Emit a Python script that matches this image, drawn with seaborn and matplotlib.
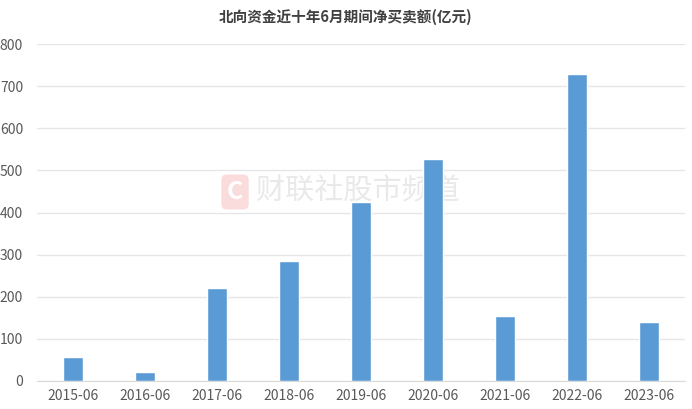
import pandas as pd
import matplotlib.pyplot as plt
import seaborn as sns

# values (亿元)
months = ['2015-06', '2016-06', '2017-06', '2018-06', '2019-06',
          '2020-06', '2021-06', '2022-06', '2023-06']
net_buy = [58, 22, 221, 284, 426, 527, 154, 729, 140]
y_ticks = [0, 100, 200, 300, 400, 500, 600, 700, 800]

title = '北向资金近十年6月期间净买卖额(亿元)'
watermark = '财联社股市频道'

sns.set_style('white')
plt.rcParams['font.family'] = ['Noto Sans CJK SC', 'DejaVu Sans']

df = pd.DataFrame({'month': months, 'value': net_buy})

fig = plt.figure(figsize=(6.92, 4.09), dpi=100)
ax = fig.add_axes([37 / 692, 1 - 381 / 409, 648 / 692, 337 / 409])

sns.barplot(data=df, x='month', y='value', color='#5B9BD5', saturation=1,
            width=0.28, ax=ax, zorder=3)

ax.set_ylim(0, 800)
ax.set_yticks(y_ticks)
ax.set_xlim(-0.5, len(months) - 0.5)
ax.grid(axis='y', color='#E6E6E6', linewidth=1, zorder=0)
ax.set_xlabel('')
ax.set_ylabel('')
for side in ['top', 'right', 'left']:
    ax.spines[side].set_visible(False)
ax.spines['bottom'].set_color('#D9D9D9')
ax.tick_params(axis='both', length=0, labelsize=10, colors='#595959')
ax.tick_params(axis='x', pad=6)
ax.tick_params(axis='y', pad=10)

fig.text(0.5, 1 - 17 / 409, title, ha='center', va='center',
         fontsize=10.5, fontweight='bold', color='#404040')

# watermark, drawn under the bars
ax.text(235 / 692, 1 - 192 / 409, 'C', ha='center', va='center',
        fontsize=18, fontweight='bold', color='white', zorder=1,
        transform=fig.transFigure, clip_on=False,
        bbox=dict(boxstyle='round,pad=0.22', fc='#FADCDD', ec='none'))
ax.text(256 / 692, 1 - 192 / 409, watermark, ha='left', va='center',
        fontsize=21, color='#E9E9E9', zorder=1,
        transform=fig.transFigure, clip_on=False)

fig.savefig('out.png', dpi=100)
